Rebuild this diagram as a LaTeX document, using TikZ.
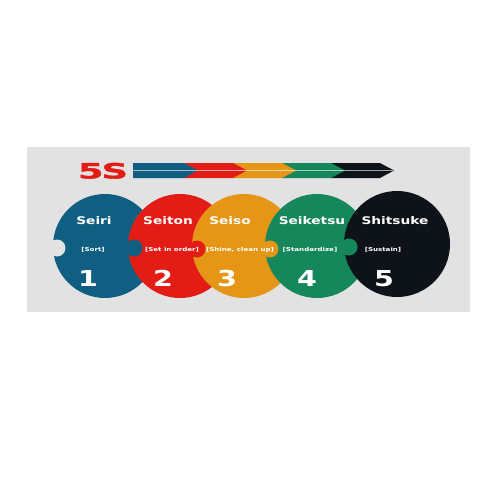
\documentclass[tikz,border=0pt]{standalone}
\usepackage{fontspec}
\newfontfamily\wideface[FakeStretch=1.3]{DejaVu Sans}
\newfontfamily\logoface[FakeStretch=1.75,FakeBold=1.5]{DejaVu Sans}
\definecolor{sblue}{RGB}{16,95,130}
\definecolor{sred}{RGB}{228,28,22}
\definecolor{sorange}{RGB}{230,150,22}
\definecolor{sgreen}{RGB}{22,135,90}
\definecolor{sblack}{RGB}{14,19,26}
\definecolor{panel}{RGB}{226,226,226}
\begin{document}
\begin{tikzpicture}[x=0.02cm, y=-0.02cm, line join=round,
	title/.style={text=white, anchor=base, font=\wideface\bfseries\fontsize{6}{7}\selectfont},
	sub/.style={text=white, anchor=base, font=\wideface\bfseries\fontsize{3.1}{4}\selectfont},
	num/.style={text=white, anchor=base, font=\wideface\bfseries\fontsize{12.5}{14}\selectfont}]
	\useasboundingbox (0,0) rectangle (500,500);
	\fill[panel] (27,147) rectangle (470,312);
	% arrow, drawn back to front so each point lies over the next piece
	\foreach \k/\c in {4/sblack,3/sgreen,2/sorange,1/sred,0/sblue}{
		\pgfmathsetmacro\s{\k==0 ? 133 : 135+49*\k}
		\pgfmathsetmacro\e{184+49*\k}
		\fill[\c] (\s,163) -- (\e,163) -- (\e+14,170.5) -- (\e,178) -- (\s,178) -- cycle;
	}
	\draw[white, opacity=.6, line width=.5pt] (133,170.5) coordinate (a0) -- (393,170.5) coordinate (a1);
	\node[text=sred, anchor=base, font=\logoface\bfseries\fontsize{12}{13}\selectfont] (logo) at (103,178.5) {5\kern-1.2pt S};
	% puzzle pieces
	\fill[sblue] (105,246) circle (52);
	\fill[panel] (57,248) circle (8.5);
	\fill[sred] (180,246) circle (52);
	\fill[sblue] (134,248) circle (8.5);
	\fill[sorange] (244,246) circle (52);
	\fill[sred] (197,249) circle (8.5);
	\fill[sgreen] (317,246) circle (52);
	\fill[sorange] (270,249) circle (8.5);
	\fill[sblack] (397,244) circle (53);
	\fill[sgreen] (349,247) circle (8.5);
	% texts
	\node[title] (t1) at (94,224) {Seiri};
	\node[title] (t2) at (168,224) {Seiton};
	\node[title] (t3) at (230,224) {Seiso};
	\node[title] (t4) at (312,224) {Seiketsu};
	\node[title] (t5) at (395,224) {Shitsuke};
	\node[sub] (s1) at (93,251) {[Sort]};
	\node[sub] (s2) at (172,251) {[Set in order]};
	\node[sub] (s3) at (240,251) {[Shine, clean up]};
	\node[sub] (s4) at (310,251) {[Standardize]};
	\node[sub] (s5) at (383,251) {[Sustain]};
	\node[num] (n1) at (88,286) {1};
	\node[num] (n2) at (163,286) {2};
	\node[num] (n3) at (227,286) {3};
	\node[num] (n4) at (307,286) {4};
	\node[num] (n5) at (384,286) {5};
\end{tikzpicture}
\end{document}
